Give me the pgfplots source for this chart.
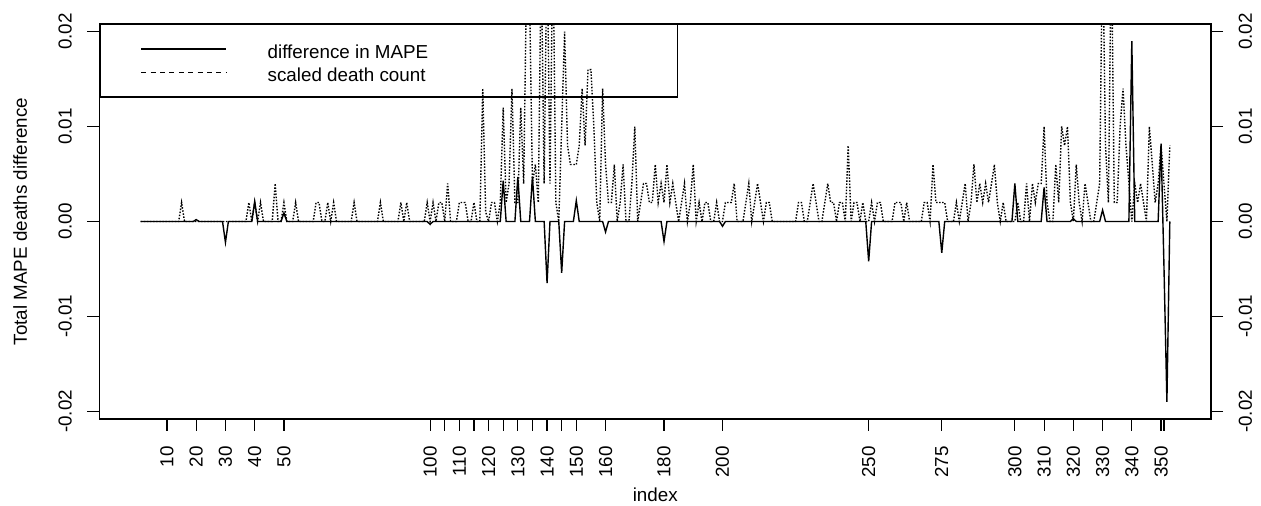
\documentclass[border=0pt]{standalone}
\usepackage{fontspec}
\setmainfont{Liberation Sans}
\usepackage{pgfplots}
\pgfplotsset{compat=1.18}
\newcommand\rf{\fontsize{18.8pt}{22pt}\selectfont}

% geometry in pt, 1pt = 1px of the 1261x506 reference
\pgfplotsset{
  rbase/.style={
    at={(0pt,0pt)}, anchor=south west,
    scale only axis, width=1111.5pt, height=395pt,
    xmin=-13.08, xmax=367.08, ymin=-0.0208, ymax=0.0208,
    axis line style={line width=1.2pt},
    tick style={line width=1.2pt, black},
    tick align=outside, major tick length=12pt,
    ytick={-0.02,-0.01,0,0.01,0.02},
    yticklabels={-0.02,-0.01,0.00,0.01,0.02},
    scaled y ticks=false,
  },
}

\begin{document}
\rf
\begin{tikzpicture}
\useasboundingbox (-99.5pt,-87pt) rectangle (1161.5pt,419pt);

\begin{axis}[
    rbase,
    xtick pos=left, ytick pos=left,
    xtick={10,20,30,40,50,100,105,110,115,120,125,130,135,140,145,150,160,180,200,250,275,300,310,320,330,340,350,351},
    xticklabels={10,20,30,40,50,100,,110,,120,,130,,140,,150,160,180,200,250,275,300,310,320,330,340,350,},
    xticklabel style={rotate=90, anchor=east, inner sep=0pt, font=\rf},
    xticklabel shift=15pt,
    yticklabel style={rotate=90, anchor=south, inner sep=0pt, font=\rf},
    yticklabel shift=15.5pt,
    xlabel={index},
    ylabel={Total MAPE deaths difference},
    x label style={at={(axis description cs:0.5,-0.2076)}, anchor=base, inner sep=0pt, font=\rf},
    y label style={at={(axis description cs:-0.06523,0.5)}, rotate=0, anchor=base, inner sep=0pt, font=\rf},
    legend style={at={(0,1)}, anchor=north west, draw=black, line width=1.2pt, fill=none,
        inner xsep=40.5pt, inner ysep=15pt, column sep=40.7pt, row sep=5pt,
        nodes={inner sep=0pt, text height=18.7pt, text depth=0pt, font=\rf}},
    legend cell align=left,
    legend image code/.code={\draw[#1] (0pt,0pt) -- (85pt,0pt);},
]
\addlegendimage{black, line width=1.4pt}
\addlegendentry{\makebox[369.5pt][l]{difference in MAPE}}
\addlegendimage{black, line width=1.4pt, dash pattern=on 5pt off 4.4pt}
\addlegendentry{\makebox[369.5pt][l]{scaled death count}}

% scaled death count
\addplot[forget plot, black, line width=1.4pt, dash pattern=on 1.5pt off 1.6pt] coordinates {
(1,0) (14,0) (15,0.002) (16,0) (37,0) (38,0.002) (39,0) (40,0.002) (41,0) (42,0.002) (43,0)
(46,0) (47,0.004) (48,0) (49,0) (50,0.002) (51,0) (53,0) (54,0.002) (55,0)
(60,0) (61,0.002) (62,0.002) (63,0) (64,0) (65,0.002) (66,0) (67,0.002) (68,0)
(73,0) (74,0.002) (75,0) (82,0) (83,0.002) (84,0) (89,0) (90,0.002) (91,0) (92,0.002) (93,0)
(98,0) (99,0.002) (100,0) (101,0.002) (102,0) (103,0.002) (104,0.002) (105,0) (106,0.004) (107,0)
(109,0) (110,0.002) (111,0.002) (112,0.002) (113,0) (114,0) (115,0.002) (116,0) (117,0)
(118,0.014) (119,0.001) (120,0) (121,0.002) (122,0.002) (123,0) (124,0.002) (125,0.012)
(126,0.002) (127,0.004) (128,0.014) (129,0.002) (130,0.002) (131,0.012) (132,0.004)
(133,0.026) (134,0.024) (135,0.004) (136,0.006) (137,0.002) (138,0.028) (139,0.004)
(140,0.030) (141,0.004) (142,0.030) (143,0.002) (144,0) (145,0.010) (146,0.020)
(147,0.008) (148,0.006) (149,0.006) (150,0.006) (151,0.008) (152,0.014) (153,0.008)
(154,0.016) (155,0.016) (156,0.010) (157,0.002) (158,0) (159,0.014) (160,0.006)
(161,0.002) (162,0.002) (163,0.006) (164,0) (165,0.002) (166,0.006) (167,0) (168,0)
(169,0.004) (170,0.010) (171,0) (172,0.002) (173,0.004) (174,0.004) (175,0.002)
(176,0.002) (177,0.006) (178,0.002) (179,0.004) (180,0.002) (181,0.006) (182,0.002)
(183,0.004) (184,0.002) (185,0) (186,0.002) (187,0.004) (188,0) (189,0.002) (190,0.006)
(191,0) (192,0.002) (193,0) (194,0.002) (195,0.002) (196,0) (197,0) (198,0.002) (199,0)
(200,0) (201,0.002) (202,0.002) (203,0.002) (204,0.004) (205,0) (207,0) (208,0.002)
(209,0.004) (210,0) (211,0.002) (212,0.004) (213,0.002) (214,0) (215,0.002) (216,0.002) (217,0)
(225,0) (226,0.002) (227,0.002) (228,0) (229,0) (230,0.002) (231,0.004) (232,0.002) (233,0)
(234,0) (235,0.002) (236,0.004) (237,0.002) (238,0.002) (239,0) (240,0.002) (241,0.002)
(242,0) (243,0.008) (244,0) (245,0.002) (246,0.002) (247,0) (248,0.002) (249,0) (250,0)
(251,0.002) (252,0) (253,0.002) (254,0.002) (255,0) (258,0) (259,0.002) (260,0.002)
(261,0.002) (262,0) (263,0.002) (264,0) (268,0) (269,0.002) (270,0.002) (271,0)
(272,0.006) (273,0.002) (274,0.002) (275,0.002) (276,0.002) (277,0) (279,0) (280,0.002)
(281,0) (282,0.002) (283,0.004) (284,0) (285,0.002) (286,0.006) (287,0.002) (288,0.004)
(289,0.002) (290,0.004) (291,0.002) (292,0.004) (293,0.006) (294,0.002) (295,0)
(296,0.002) (297,0) (300,0) (301,0.002) (302,0) (303,0) (304,0.004) (305,0) (306,0.004)
(307,0.002) (308,0.004) (309,0.004) (310,0.010) (311,0.002) (312,0) (313,0) (314,0.006)
(315,0.002) (316,0.010) (317,0.008) (318,0.010) (319,0.002) (320,0) (321,0.006)
(322,0.002) (323,0) (324,0.004) (325,0.002) (326,0) (327,0) (328,0.002) (329,0.004)
(330,0.030) (331,0.008) (332,0.002) (333,0.030) (334,0.002) (335,0.002) (336,0.010)
(337,0.014) (338,0.008) (339,0.004) (340,0) (341,0.004) (342,0.002) (343,0.004)
(344,0.002) (345,0) (346,0.010) (347,0.006) (348,0.002) (349,0.004) (350,0.008)
(351,0.004) (352,0) (353,0.008)
};

% difference in MAPE
\addplot[forget plot, black, line width=1.4pt] coordinates {
(1,0) (19,0) (20,0.0002) (21,0) (29,0) (30,-0.0022) (31,0) (39,0) (40,0.0021) (41,0)
(49,0) (50,0.0009) (51,0) (99,0) (100,-0.0003) (101,0) (124,0) (125,0.0043) (126,0)
(129,0) (130,0.0047) (131,0) (134,0) (135,0.0047) (136,0) (139,0) (140,-0.0065) (141,0)
(144,0) (145,-0.0054) (146,0) (149,0) (150,0.0022) (151,0) (159,0) (160,-0.0011) (161,0)
(179,0) (180,-0.0021) (181,0) (199,0) (200,-0.0005) (201,0) (249,0) (250,-0.0042) (251,0)
(274,0) (275,-0.0033) (276,0) (299,0) (300,0.0040) (301,0) (309,0) (310,0.0036) (311,0)
(319,0) (320,0.0003) (321,0) (329,0) (330,0.0012) (331,0) (339,0) (340,0.0190) (341,0)
(349,0) (350,0.0082) (351,-0.0048) (352,-0.0190) (353,0)
};
\end{axis}

% right-hand y axis
\begin{axis}[
    rbase,
    hide x axis,
    axis y line*=right,
    tick align=outside,
    yticklabel style={rotate=90, anchor=north, inner sep=0pt, font=\rf},
    yticklabel shift=15.5pt,
]
\end{axis}
\end{tikzpicture}
\end{document}
